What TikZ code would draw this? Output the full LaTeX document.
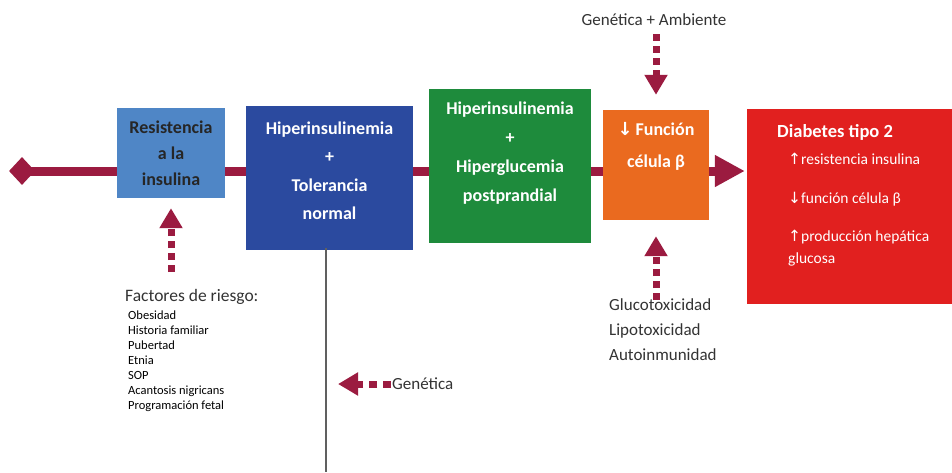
\documentclass[tikz,border=0pt]{standalone}
\usepackage{fontspec}
\setmainfont{Carlito}
\newfontfamily\arrfont{DejaVu Sans}
\usetikzlibrary{arrows.meta,backgrounds,shapes.geometric}
\definecolor{maroon}{HTML}{9B1B40}
\definecolor{lblue}{HTML}{4F86C6}
\definecolor{dblue}{HTML}{2B4A9F}
\definecolor{dgreen}{HTML}{1E8B3C}
\definecolor{orng}{HTML}{EA6A1F}
\definecolor{rred}{HTML}{E1201F}
\definecolor{txtgray}{HTML}{333333}
\newcommand{\upa}{{\arrfont\char"2191}}
\newcommand{\dna}{{\arrfont\char"2193}}
\tikzset{
  stagebox/.style={draw=none, inner sep=0pt, minimum width=#1},
  boxtext/.style={align=center, font=\fontsize{18}{28.5}\selectfont\bfseries, text=white, inner sep=0pt},
  mainline/.style={maroon, line width=9pt, -{Triangle[length=30pt,width=30pt]}},
  dasharrow/.style={maroon, line width=7pt, dash pattern=on 7pt off 5pt, -{Triangle[length=20pt,width=22pt]}},
  sidetext/.style={font=\fontsize{17}{25}\selectfont, text=txtgray, align=left, inner sep=0pt},
}
\begin{document}
\begin{tikzpicture}[x=1pt,y=-1pt]
\useasboundingbox (0,0) rectangle (952,472);
% boxes
\node[stagebox=108pt, minimum height=90pt, fill=lblue] (b1) at (171,153) {};
\node[stagebox=167pt, minimum height=144pt, fill=dblue] (b2) at (329.5,178) {};
\node[stagebox=162pt, minimum height=154pt, fill=dgreen] (b3) at (510,166) {};
\node[stagebox=106pt, minimum height=110pt, fill=orng] (b4) at (656,165) {};
\node[stagebox=206pt, minimum height=195pt, fill=rred] (b5) at (850,206.5) {};
\node[diamond, fill=maroon, minimum width=26pt, minimum height=28pt, inner sep=0pt] (dia) at (22,171) {};
% box texts
\node[boxtext, text=black!85, font=\fontsize{18}{26}\selectfont\bfseries] (t1) at (171,153) {Resistencia\\a la\\insulina};
\node[boxtext] (t2) at (329.5,170.5) {Hiperinsulinemia\\+\\Tolerancia\\normal};
\node[boxtext, font=\fontsize{18}{29}\selectfont\bfseries] (t3) at (510,153) {Hiperinsulinemia\\+\\Hiperglucemia\\postprandial};
\node[boxtext, font=\fontsize{18}{32}\selectfont\bfseries] (t4) at (656,146) {\dna\,Función\\célula β};
\node[anchor=west, font=\fontsize{18.5}{20}\selectfont\bfseries, text=white, inner sep=0pt] (t5a) at (777,132) {Diabetes tipo 2};
\node[anchor=west, font=\fontsize{15.5}{18}\selectfont, text=white, inner sep=0pt] (t5b) at (788,159) {\upa resistencia insulina};
\node[anchor=west, font=\fontsize{15.5}{18}\selectfont, text=white, inner sep=0pt] (t5c) at (788,199) {\dna función célula β};
\node[anchor=north west, align=left, font=\fontsize{15.5}{22}\selectfont, text=white, inner sep=0pt] (t5d) at (788,230) {\upa producción hepática\\glucosa};
% main line
\begin{scope}[on background layer]
\draw[mainline] (dia.center) -- ([xshift=-2pt]b5.west |- dia.center);
\end{scope}
% side texts
\node[font=\fontsize{17}{20}\selectfont, text=txtgray, inner sep=0pt] (ga) at (654,20) {Genética + Ambiente};
\node[anchor=west, font=\fontsize{17.5}{20}\selectfont, text=txtgray, inner sep=0pt] (fr) at (125,297) {Factores de riesgo:};
\node[anchor=north west, align=left, font=\fontsize{12.5}{15}\selectfont, text=black, inner sep=0pt] (frl) at (128,311) {Obesidad\\Historia familiar\\Pubertad\\Etnia\\SOP\\Acantosis nigricans\\Programación fetal};
\node[sidetext, anchor=north west] (gl) at (609,298) {Glucotoxicidad\\Lipotoxicidad\\Autoinmunidad};
\node[anchor=west, font=\fontsize{17}{20}\selectfont, text=txtgray, inner sep=0pt] (gen) at (392,384) {Genética};
% vertical line
\coordinate (vtop) at (326,248);
\coordinate (vbot) at (326,472);
\draw[gray!75!black, line width=1.8pt] (vtop) -- (vbot);
% dashed arrows
\coordinate (fa) at (171,272);
\draw[dasharrow, shorten >=10pt] (fa) -- (b1.south);
\draw[dasharrow, shorten <=8pt, shorten >=15pt] (ga.south -| b4.north) -- (b4.north);
\coordinate (ob) at (656,300);
\draw[dasharrow, shorten >=16pt] (ob) -- (b4.south);
\coordinate (gtip) at (338,384);
\draw[dasharrow, dash pattern=on 8pt off 6pt, shorten <=1pt] (gen.west) -- (gtip);
\end{tikzpicture}
\end{document}
